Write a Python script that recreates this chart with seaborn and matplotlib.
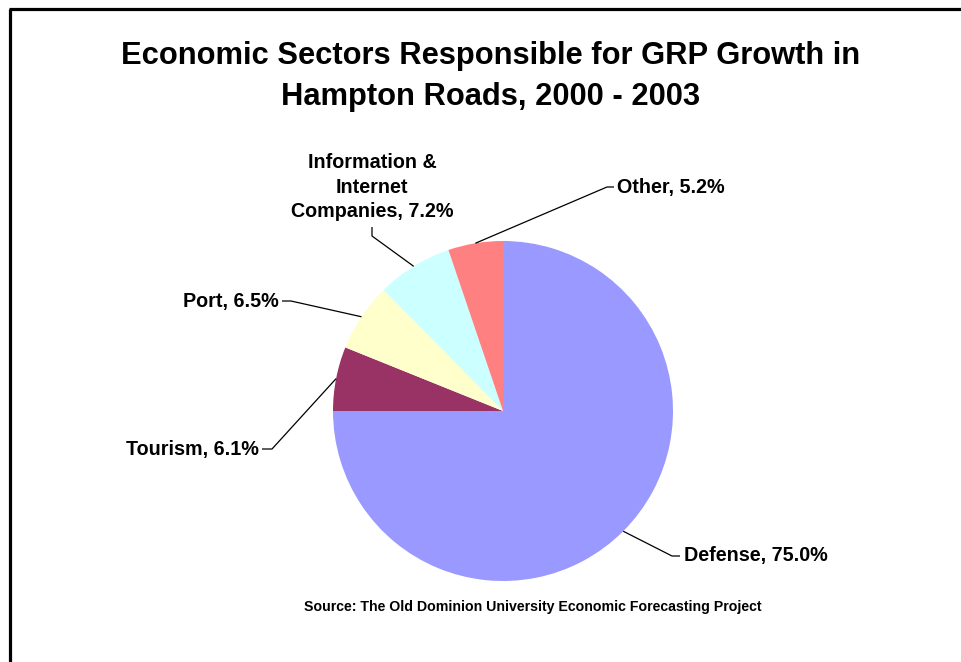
import numpy as np
import matplotlib
matplotlib.use("Agg")
import matplotlib.pyplot as plt
import seaborn as sns

# Sector shares of GRP growth, drawn clockwise from 12 o'clock
sectors = ["Defense", "Tourism", "Port", "Information &\nInternet\nCompanies", "Other"]
shares = [75.0, 6.1, 6.5, 7.2, 5.2]
colors = ["#9999FF", "#993366", "#FFFFCC", "#CCFFFF", "#FF8080"]

title = "Economic Sectors Responsible for GRP Growth in\nHampton Roads, 2000 - 2003"
source = "Source: The Old Dominion University Economic Forecasting Project"

sns.set_style("white")
plt.rcParams["font.family"] = ["Liberation Sans", "DejaVu Sans"]
plt.rcParams["text.color"] = "black"

W, H = 961, 662
fig = plt.figure(figsize=(W / 100, H / 100), dpi=100)
ax = fig.add_axes([0, 0, 1, 1])

cx, cy, r = 503, H - 411, 170
start = 90
wedges, _ = ax.pie(shares, colors=colors, startangle=start, counterclock=False,
                   center=(cx, cy), radius=r, frame=True,
                   wedgeprops=dict(linewidth=0))
ax.set_xlim(0, W)
ax.set_ylim(0, H)
ax.axis("off")

# label layout: (elbow point, end of horizontal tick, text anchor, ha, va)
layout = [
    ((672, 556), (680, 556), (684, 556), "left", "center"),
    ((272, 449), (262, 449), (259, 449), "right", "center"),
    ((291, 301), (282, 301), (279, 301), "right", "center"),
    ((372, 236), (372, 227), (372, 221), "center", "bottom"),
    ((607, 187), (614, 187), (617, 187), "left", "center"),
]

cum = np.cumsum([0] + shares)
for i, (name, val) in enumerate(zip(sectors, shares)):
    mid = start - 360 * (cum[i] + cum[i + 1]) / 2 / 100
    th = np.deg2rad(mid)
    px, py = cx + r * np.cos(th), cy + r * np.sin(th)
    (ex, ey), (tx, ty), (lx, ly), ha, va = layout[i]
    ax.plot([px, ex, tx], [py, H - ey, H - ty], color="black", lw=0.9,
            solid_capstyle="butt")
    ax.text(lx, H - ly, f"{name}, {val:.1f}%", ha=ha, va=va, fontsize=14.2,
            fontweight="bold", multialignment="center", linespacing=1.36)

ax.text(491, H - 76.5, title, ha="center", va="center", fontsize=22.2,
        fontweight="bold", linespacing=1.45)
ax.text(533, H - 607, source, ha="center", va="center", fontsize=10.2,
        fontweight="bold")

# frame lines along the left and top edges
ax.plot([9.5, 9.5], [0, H - 8.5], color="black", lw=2.3, solid_capstyle="butt")
ax.plot([8.5, W], [H - 8.5, H - 8.5], color="black", lw=2.3, solid_capstyle="butt")

fig.savefig("out.png", dpi=100)
